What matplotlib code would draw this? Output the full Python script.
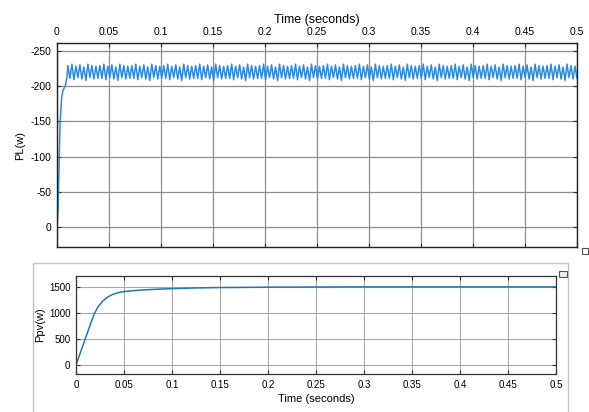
import numpy as np
import matplotlib
matplotlib.use("Agg")
import matplotlib.pyplot as plt
from matplotlib.patches import Rectangle

plt.rcParams['font.family'] = ['Liberation Sans', 'DejaVu Sans']

# Potencia de carga PL (arranque + rizado)
pl_rise_t = [0, 0.001, 0.002, 0.003, 0.0045, 0.006, 0.008, 0.0095]
pl_rise_v = [0, -25, -90, -150, -185, -195, -200, -212]
pl_ripple = [-229, -211, -231, -209, -228, -212, -230, -210,
             -227, -208, -231, -212, -229, -210, -228, -211]
pl_ripple_reps = 16

# Potencia PV
ppv_t = [0, 0.005, 0.01, 0.015, 0.019, 0.023, 0.028, 0.033, 0.038, 0.044,
         0.05, 0.06, 0.07, 0.085, 0.1, 0.12, 0.15, 0.2, 0.25, 0.3, 0.4, 0.5]
ppv_v = [0, 260, 520, 780, 980, 1120, 1230, 1305, 1355, 1390,
         1410, 1428, 1442, 1456, 1467, 1478, 1488, 1495, 1498, 1500, 1500, 1500]

x_ticks = [0, 0.05, 0.1, 0.15, 0.2, 0.25, 0.3, 0.35, 0.4, 0.45, 0.5]
x_labels = ["0", "0.05", "0.1", "0.15", "0.2", "0.25", "0.3", "0.35", "0.4", "0.45", "0.5"]
pl_ticks = [-250, -200, -150, -100, -50, 0]
ppv_ticks = [0, 500, 1000, 1500]

ripple = np.tile(pl_ripple, pl_ripple_reps)
ripple_t = np.linspace(0.0105, 0.5, len(ripple))
pl_t = np.concatenate([pl_rise_t, ripple_t])
pl_v = np.concatenate([pl_rise_v, ripple])

fig = plt.figure(figsize=(5.89, 4.12), dpi=100)

# Marco del panel inferior
fig.patches.append(Rectangle((33 / 589, -0.01), 535 / 589, 1 - 263 / 412 + 0.01,
                             transform=fig.transFigure, fill=False,
                             edgecolor="#c4c4c4", lw=1.0))
# Iconos pequeños
fig.patches.append(Rectangle((582 / 589, 1 - 254 / 412), 6 / 589, 6 / 412,
                             transform=fig.transFigure, fill=False,
                             edgecolor="#555555", lw=0.8))
fig.patches.append(Rectangle((559 / 589, 1 - 277 / 412), 8 / 589, 6 / 412,
                             transform=fig.transFigure, fill=True,
                             facecolor="#eeeeee", edgecolor="#555555", lw=0.8))

# Grafica superior
ax1 = fig.add_axes([57 / 589, 1 - 247 / 412, 520 / 589, 204 / 412])
ax1.plot(pl_t, pl_v, color="#2e8bd6", lw=1.1)
ax1.set_xlim(0, 0.5)
ax1.set_ylim(28, -261)
ax1.set_xticks(x_ticks)
ax1.set_xticklabels(x_labels)
ax1.set_yticks(pl_ticks)
ax1.set_yticklabels([str(v) for v in pl_ticks])
ax1.xaxis.tick_top()
ax1.xaxis.set_label_position("top")
ax1.set_xlabel("Time (seconds)", fontsize=9, labelpad=3)
ax1.set_ylabel("PL(w)", fontsize=8, labelpad=4)
ax1.tick_params(direction="in", length=3, labelsize=7.5, top=True, bottom=True,
                left=True, right=True, pad=4, color="#333333")
ax1.grid(True, color="#8f8f8f", lw=0.9)
for s in ax1.spines.values():
    s.set_color("#222222")
    s.set_linewidth(1.0)

# Grafica inferior
ax2 = fig.add_axes([76 / 589, 1 - 374 / 412, 480 / 589, 98 / 412])
ax2.plot(ppv_t, ppv_v, color="#1f77b4", lw=1.1)
ax2.set_xlim(0, 0.5)
ax2.set_ylim(-175, 1710)
ax2.set_xticks(x_ticks)
ax2.set_xticklabels(x_labels)
ax2.set_yticks(ppv_ticks)
ax2.set_xlabel("Time (seconds)", fontsize=8, labelpad=3)
ax2.set_ylabel("Ppv(w)", fontsize=8, labelpad=3)
ax2.tick_params(direction="in", length=3, labelsize=7, top=True, right=True,
                pad=4, color="#333333")
ax2.grid(True, color="#a8a8a8", lw=0.8)
for s in ax2.spines.values():
    s.set_color("#333333")
    s.set_linewidth(0.9)

fig.savefig("out.png", dpi=100)
